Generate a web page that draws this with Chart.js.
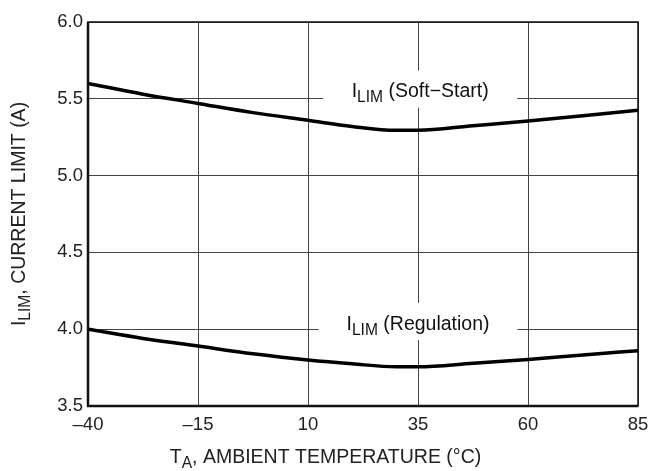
<!DOCTYPE html>
<html>
<head>
<meta charset="utf-8">
<script src="https://cdn.jsdelivr.net/npm/chart.js@4.4.0/dist/chart.umd.min.js"></script>
<style>
  html, body { margin: 0; padding: 0; background: #fff; }
  #wrap { width: 651px; height: 471px; }
</style>
</head>
<body>
<div id="wrap"><canvas id="chart"></canvas></div>
<script>
// --- data ---
const temps       = [-40, -27.5, -15, -2.5, 10, 20, 30, 35, 47.5, 60, 72.5, 85];
const softStart   = [5.60, 5.53, 5.47, 5.41, 5.36, 5.32, 5.295, 5.295, 5.325, 5.355, 5.39, 5.425];
const regulation  = [4.00, 3.94, 3.89, 3.84, 3.80, 3.775, 3.755, 3.755, 3.778, 3.803, 3.832, 3.86];
const xTicks      = [-40, -15, 10, 35, 60, 85];
const yTicks      = [3.5, 4.0, 4.5, 5.0, 5.5, 6.0];

// curve labels: text parts, anchor in data units, white gap size
const curveLabels = [
    { parts: [['I'], ['LIM', true], [' (Soft\u2212Start)']], x: 35.5, y: 5.544, w: 194, h: 37 },
    { parts: [['I'], ['LIM', true], [' (Regulation)']],      x: 35.0, y: 4.031, w: 199, h: 37 }
];

const FONT = '"Liberation Sans", Arial, Helvetica, sans-serif';
const TEXT_SIZE = 19.5;

// draw a string made of normal / subscript parts, centred at (cx, cy)
function drawParts(ctx, parts, cx, cy, size) {
    const subSize = size * 0.8;
    let w = 0;
    parts.forEach(p => {
        ctx.font = (p[1] ? subSize : size) + 'px ' + FONT;
        w += ctx.measureText(p[0]).width;
    });
    let x = cx - w / 2;
    ctx.textBaseline = 'middle';
    ctx.textAlign = 'left';
    parts.forEach(p => {
        ctx.font = (p[1] ? subSize : size) + 'px ' + FONT;
        ctx.fillText(p[0], x, cy + (p[1] ? size * 0.3 : 0));
        x += ctx.measureText(p[0]).width;
    });
    return w;
}

const annotations = {
    id: 'annotations',
    afterDatasetsDraw(chart) {
        const ctx = chart.ctx;
        const xs = chart.scales.x, ys = chart.scales.y;
        ctx.save();
        curveLabels.forEach(l => {
            const cx = xs.getPixelForValue(l.x);
            const cy = ys.getPixelForValue(l.y);
            ctx.fillStyle = '#fff';
            ctx.fillRect(cx - l.w / 2, cy - 3 - l.h / 2, l.w, l.h);
            ctx.fillStyle = '#111';
            drawParts(ctx, l.parts, cx, cy, TEXT_SIZE);
        });

        // axis titles
        const area = chart.chartArea;
        ctx.fillStyle = '#222';
        drawParts(ctx, [['T'], ['A', true], [', AMBIENT TEMPERATURE (\u00B0C)']], chart.width / 2, 458, TEXT_SIZE);

        ctx.translate(20, (area.top + area.bottom) / 2);
        ctx.rotate(-Math.PI / 2);
        drawParts(ctx, [['I'], ['LIM', true], [', CURRENT LIMIT (A)']], 0, 0, TEXT_SIZE);
        ctx.restore();

        // plot frame
        ctx.save();
        ctx.strokeStyle = '#111';
        ctx.lineWidth = 1.5;
        ctx.strokeRect(area.left, area.top, area.right - area.left, area.bottom - area.top);
        ctx.lineWidth = 2.5;
        ctx.beginPath();
        ctx.moveTo(area.left, area.top);
        ctx.lineTo(area.left, area.bottom);
        ctx.lineTo(area.right, area.bottom);
        ctx.stroke();
        ctx.restore();
    }
};

const bg = {
    id: 'bg',
    beforeDraw(chart) {
        const ctx = chart.ctx;
        ctx.save();
        ctx.fillStyle = '#fff';
        ctx.fillRect(0, 0, chart.width, chart.height);
        ctx.restore();
    }
};

function lineSet(values) {
    return {
        data: temps.map((t, i) => ({ x: t, y: values[i] })),
        borderColor: '#000',
        borderWidth: 3.5,
        pointRadius: 0,
        tension: 0.4,
        cubicInterpolationMode: 'monotone',
        fill: false
    };
}

new Chart(document.getElementById('chart'), {
    type: 'line',
    data: { datasets: [lineSet(softStart), lineSet(regulation)] },
    options: {
        responsive: true,
        maintainAspectRatio: false,
        animation: false,
        layout: { padding: { top: 22, right: 13, left: 0, bottom: 0 } },
        plugins: { legend: { display: false }, tooltip: { enabled: false } },
        scales: {
            x: {
                type: 'linear',
                min: -40, max: 85,
                afterFit: s => { s.height = 65; s.paddingLeft = 0; s.paddingRight = 0; },
                afterBuildTicks: s => { s.ticks = xTicks.map(v => ({ value: v })); },
                ticks: {
                    color: '#222',
                    padding: 8,
                    maxRotation: 0,
                    font: { family: FONT, size: 18.5 },
                    callback: v => String(v).replace('-', '\u2013')
                },
                grid: { color: '#444', lineWidth: 1, drawTicks: false },
                border: { display: false }
            },
            y: {
                min: 3.5, max: 6.0,
                afterFit: s => { s.width = 88; s.paddingTop = 0; s.paddingBottom = 0; },
                afterBuildTicks: s => { s.ticks = yTicks.map(v => ({ value: v })); },
                ticks: {
                    color: '#222',
                    padding: 5,
                    font: { family: FONT, size: 18.5 },
                    callback: v => v.toFixed(1)
                },
                grid: { color: '#444', lineWidth: 1, drawTicks: false },
                border: { display: false }
            }
        }
    },
    plugins: [bg, annotations]
});
</script>
</body>
</html>
